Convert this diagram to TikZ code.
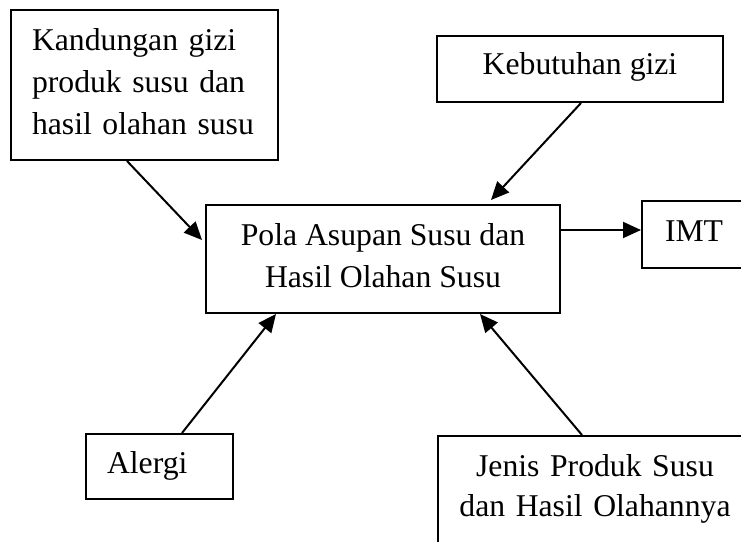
\documentclass[tikz,border=0pt]{standalone}
\usepackage{fontspec}
\setmainfont{Liberation Serif}
\usetikzlibrary{arrows.meta}
\begin{document}
\begin{tikzpicture}[x=1pt,y=-1pt,
  box/.style={draw, line width=2pt, rectangle, inner sep=0pt, font=\fontsize{31.7}{42}\selectfont},
  arr/.style={line width=2pt, -{Triangle[length=18pt,width=16pt]}},
  oneline/.style={text height=22pt, text depth=12pt}]
\clip (0,0) rectangle (741,541);
\fill[white] (0,0) rectangle (741,541);
\node[box, minimum width=267pt, minimum height=150pt, text width=225pt, align=left] (gizi) at (144.5,85)
  {Kandungan gizi\\produk susu dan\\hasil olahan susu\rule[-6pt]{0pt}{6pt}};
\node[box, oneline, minimum width=286pt, minimum height=66pt] (keb) at (580,69) {Kebutuhan gizi};
\node[box, minimum width=354pt, minimum height=108pt, align=center] (pola) at (383,259)
  {Pola Asupan Susu dan\\Hasil Olahan Susu\rule[-8pt]{0pt}{8pt}};
\node[box, oneline, text depth=8pt, anchor=west, minimum height=67pt, text width=120pt, align=left, inner xsep=23pt] (imt) at (641,234.5) {IMT};
\node[box, oneline, text depth=8pt, minimum width=147pt, minimum height=65pt, text width=105pt, align=left] (alergi) at (159.5,466.5) {Alergi};
\node[box, anchor=north west, text width=314pt, align=center, inner ysep=18pt, font=\fontsize{31.7}{40}\selectfont] (jenis) at (437,435)
  {Jenis Produk Susu\\dan Hasil Olahannya\rule[-50pt]{0pt}{50pt}};
\coordinate (imtstart) at ([yshift=29pt]pola.east);
\draw[arr] ([xshift=117pt]gizi.south west) -- ([yshift=19pt,xshift=-3pt]pola.west);
\draw[arr] ([xshift=145pt]keb.south west) -- ([xshift=286pt,yshift=4pt]pola.north west);
\draw[arr] (imtstart) -- (imtstart -| imt.west);
\draw[arr] ([xshift=97pt]alergi.north west) -- ([xshift=71pt]pola.south west);
\draw[arr] ([xshift=145pt]jenis.north west) -- ([xshift=275pt]pola.south west);
\end{tikzpicture}
\end{document}
